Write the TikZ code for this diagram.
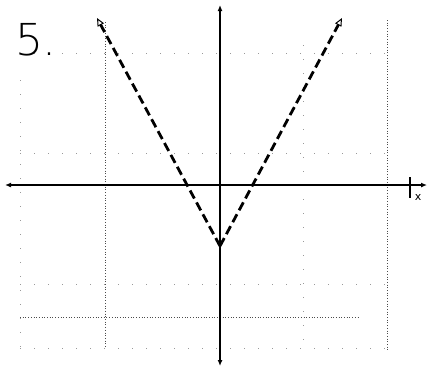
\documentclass[tikz,border=0pt]{standalone}
\usetikzlibrary{arrows.meta}
\usepackage{fontspec}
\setmainfont{DejaVu Sans}
\begin{document}
\begin{tikzpicture}[x=1pt,y=-1pt,
  axisline/.style={line width=1.6pt,{Latex[length=6pt,width=5pt]}-{Latex[length=6pt,width=5pt]}},
  graphline/.style={line width=2.8pt,dash pattern=on 9pt off 4.5pt,-{Triangle[open,length=8pt,width=7pt,line width=1pt]}},
  gridmain/.style={line width=0.7pt,dotted,black!70},
  gridfaint/.style={line width=0.7pt,dash pattern=on 1pt off 13pt,black!40}]
\useasboundingbox (0,0) rectangle (435,381);
% faint grid
\draw[gridfaint] (20,53) -- (387,53);
\draw[gridfaint] (20,153) -- (387,153);
\draw[gridfaint] (20,284) -- (387,284);
\draw[gridfaint] (20,348) -- (387,348);
\draw[gridfaint] (20,80) -- (20,348);
\draw[gridfaint] (303,45) -- (303,350);
\draw[gridmain] (387,20) -- (387,350);
\draw[gridmain] (105,22) -- (105,348);
\draw[gridmain] (20,317) -- (360,317);
% axes
\coordinate (xl) at (5,185);
\coordinate (xr) at (427,185);
\coordinate (yt) at (220,5);
\coordinate (yb) at (220,366);
\draw[axisline] (xl) -- (xr);
\draw[axisline] (yb) -- (yt);
\coordinate (tk1) at (410,177);
\coordinate (tk2) at (410,198);
\draw[line width=1.2pt] (tk1) -- (tk2);
\node[font=\fontsize{11}{11}\selectfont,inner sep=0pt] (xlab) at (418,197) {x};
% graph
\coordinate (vtx) at (220,246);
\coordinate (pl) at (97,18);
\coordinate (pr) at (342,18);
\draw[graphline] (vtx) -- (pl);
\draw[graphline] (vtx) -- (pr);
% label
\node[font=\fontsize{44}{44}\selectfont\fontspec{DejaVu Sans ExtraLight},inner sep=0pt] (num) at (36,40) {5.};
\end{tikzpicture}
\end{document}
